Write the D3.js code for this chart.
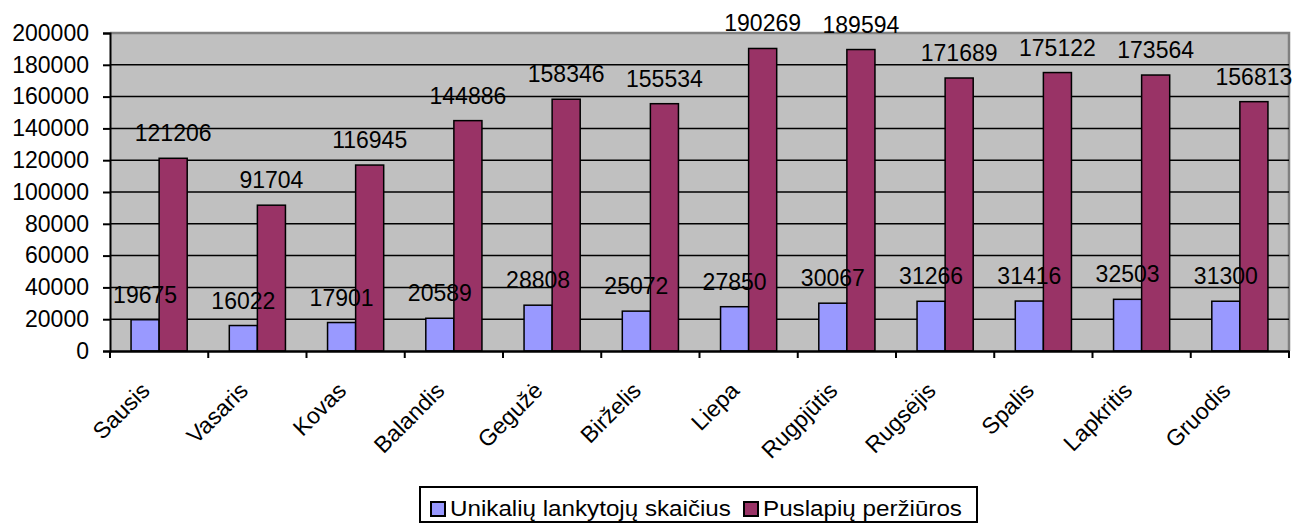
<!DOCTYPE html>
<html>
<head>
<meta charset="utf-8">
<script src="https://cdn.jsdelivr.net/npm/d3@7"></script>
<style>
  html, body { margin: 0; padding: 0; background: #fff; }
  svg { display: block; font-family: "Liberation Sans", Arial, sans-serif; }
</style>
</head>
<body>
<svg id="chart" width="1294" height="524"></svg>
<script>
const categories = ["Sausis","Vasaris","Kovas","Balandis","Gegužė","Birželis","Liepa","Rugpjūtis","Rugsėjis","Spalis","Lapkritis","Gruodis"];
const seriesNames = ["Unikalių lankytojų skaičius","Puslapių peržiūros"];
const uniqueVisitors = [19675,16022,17901,20589,28808,25072,27850,30067,31266,31416,32503,31300];
const pageViews = [121206,91704,116945,144886,158346,155534,190269,189594,171689,175122,173564,156813];
const yTicks = [0,20000,40000,60000,80000,100000,120000,140000,160000,180000,200000];
const colors = ["#9999FF","#993366"];

(function () {
const svg = d3.select("#chart");
const pL = 110, pR = 1289, pT = 33, pB = 351;

const x = d3.scaleBand().domain(categories).range([pL, pR]).paddingInner(0).paddingOuter(0);
const xs = d3.scaleBand().domain(seriesNames).range([0, x.bandwidth()]).paddingInner(0).paddingOuter(0.75);
const y = d3.scaleLinear().domain([0, 200000]).range([pB, pT]);

// plot background
svg.append("rect").attr("x", pL).attr("y", pT).attr("width", pR - pL).attr("height", pB - pT)
  .attr("fill", "#C0C0C0");
// top/right gray border
svg.append("path").attr("d", `M${pL},${pT}H${pR}V${pB}`).attr("fill", "none")
  .attr("stroke", "#808080").attr("stroke-width", 2.5);

// gridlines
svg.append("g").selectAll("line").data(yTicks.filter(t => t > 0 && t < 200000)).join("line")
  .attr("x1", pL).attr("x2", pR).attr("y1", d => y(d)).attr("y2", d => y(d))
  .attr("stroke", "#000").attr("stroke-width", 1.5);

// y axis
const yAxis = d3.axisLeft(y).tickValues(yTicks).tickSize(7).tickPadding(14).tickFormat(d3.format("d"));
const gy = svg.append("g").attr("transform", `translate(${pL},0)`).call(yAxis);
gy.select(".domain").attr("stroke", "#000").attr("stroke-width", 2);
gy.selectAll(".tick line").attr("stroke", "#000").attr("stroke-width", 2);
gy.selectAll(".tick text").attr("font-size", 23).attr("fill", "#000")
  .attr("font-family", "'Liberation Sans', Arial, sans-serif");

// bars
const data = categories.map((c, i) => ({ c, vals: [uniqueVisitors[i], pageViews[i]] }));
const groups = svg.append("g").selectAll("g").data(data).join("g")
  .attr("transform", d => `translate(${x(d.c)},0)`);
groups.selectAll("rect").data(d => d.vals.map((v, j) => ({ v, s: seriesNames[j], j }))).join("rect")
  .attr("x", d => xs(d.s)).attr("width", xs.bandwidth())
  .attr("y", d => y(d.v)).attr("height", d => y(0) - y(d.v))
  .attr("fill", d => colors[d.j]).attr("stroke", "#000").attr("stroke-width", 1.5);

// x axis
const xAxis = d3.axisBottom(x).tickSize(0).tickFormat("");
const gx = svg.append("g").attr("transform", `translate(0,${pB})`).call(xAxis);
gx.select(".domain").attr("stroke", "#000").attr("stroke-width", 2.5);
// category tick marks at band boundaries
svg.append("g").selectAll("line").data(categories.map(c => x(c)).concat([pR])).join("line")
  .attr("x1", d => d).attr("x2", d => d).attr("y1", pB).attr("y2", pB + 7)
  .attr("stroke", "#000").attr("stroke-width", 2);
// category labels
svg.append("g").selectAll("text").data(categories).join("text")
  .attr("transform", d => `translate(${x(d) + x.bandwidth() / 2 - 8},${pB + 41}) rotate(-45)`)
  .attr("text-anchor", "end").attr("font-size", 23).attr("fill", "#000").text(d => d);

// value labels
groups.selectAll("text").data(d => d.vals.map((v, j) => ({ v, s: seriesNames[j], j }))).join("text")
  .attr("x", d => xs(d.s) + xs.bandwidth() / 2).attr("y", d => y(d.v) - 17)
  .attr("text-anchor", "middle").attr("font-size", 23).attr("fill", "#000").text(d => d.v);

// legend
const lg = svg.append("g");
lg.append("rect").attr("x", 420).attr("y", 487).attr("width", 557).attr("height", 35)
  .attr("fill", "#fff").attr("stroke", "#000").attr("stroke-width", 2);
const legendX = [431, 744];
seriesNames.forEach((s, i) => {
  lg.append("rect").attr("x", legendX[i]).attr("y", 502).attr("width", 14).attr("height", 14)
    .attr("fill", colors[i]).attr("stroke", "#000").attr("stroke-width", 2);
  lg.append("text").attr("transform", `translate(${legendX[i] + 19},516) scale(1.1,1)`)
    .attr("font-size", 22).attr("fill", "#000").text(s);
});
})();
</script>
</body>
</html>
